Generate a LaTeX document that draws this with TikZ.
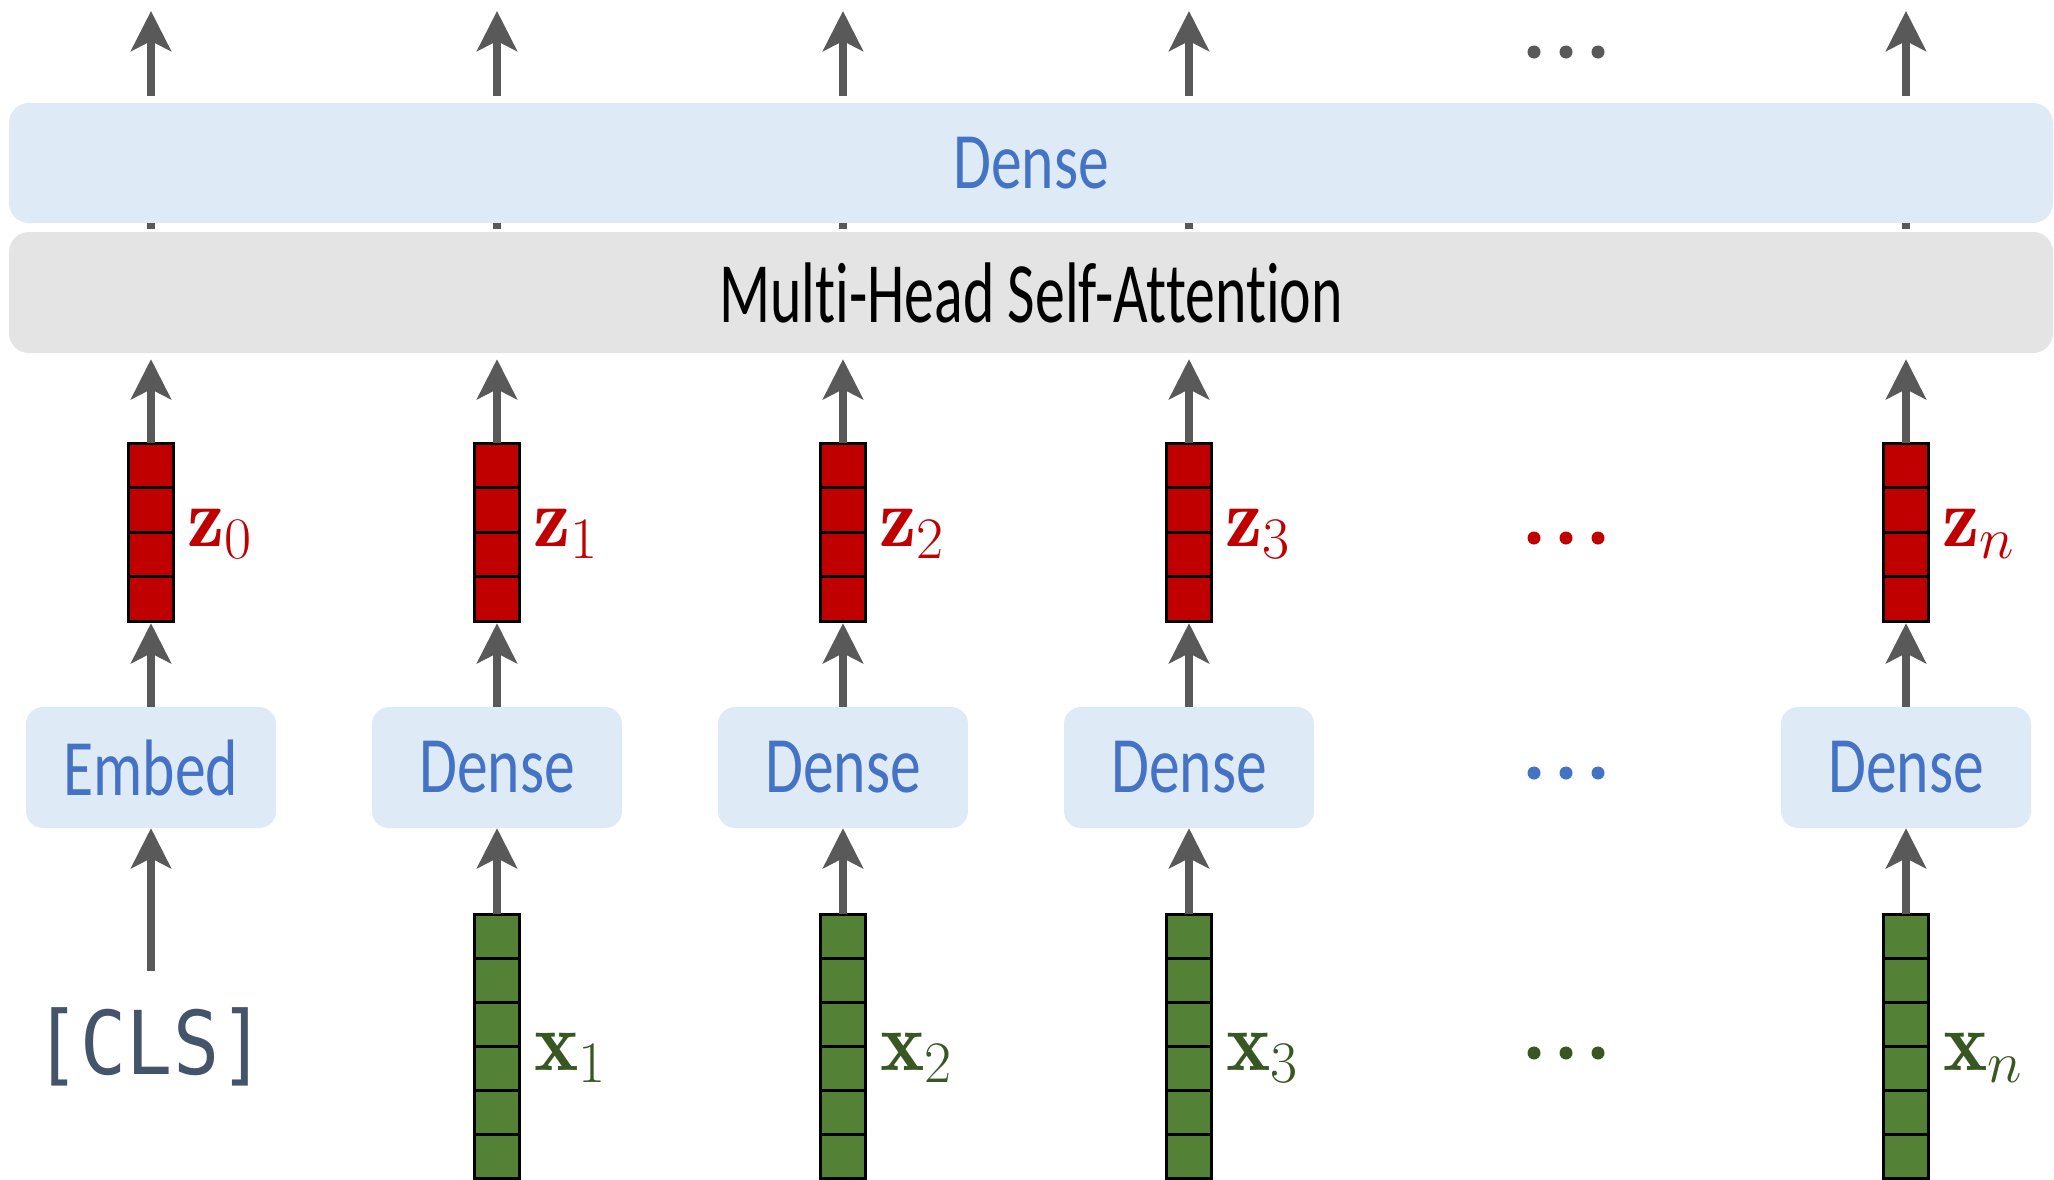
\RequirePackage{fix-cm}
\documentclass[tikz,border=0pt]{standalone}
\usepackage{fontspec}
\newfontfamily\calfont[FakeStretch=0.77,Ligatures=NoCommon]{Carlito}
\newfontfamily\mhsafont[FakeStretch=0.695,Ligatures=NoCommon]{Carlito}
\newfontfamily\clsfont[FakeStretch=0.87]{DejaVu Sans Mono}
\usetikzlibrary{arrows.meta}
\definecolor{agray}{HTML}{595959}
\definecolor{lblue}{HTML}{DEEBF7}
\definecolor{lgray}{HTML}{E4E4E4}
\definecolor{tblue}{HTML}{4472C4}
\definecolor{zred}{HTML}{C00000}
\definecolor{xfill}{HTML}{538135}
\definecolor{xtext}{HTML}{385723}
\definecolor{clsc}{HTML}{44546A}
\tikzset{
  arr/.style={draw=agray, line width=8pt, -{Stealth[length=40pt,width=40pt,inset=10pt]}},
  stub/.style={draw=agray, line width=8pt},
  bar/.style={rounded corners=20pt, inner sep=0pt, minimum width=2044pt, minimum height=120pt},
  box/.style={fill=lblue, rounded corners=17pt, inner sep=0pt, minimum width=250pt, minimum height=121pt, text=tblue, font=\calfont\fontsize{80}{96}\selectfont},
  zcell/.style={fill=zred, draw=black, line width=3pt},
  xcell/.style={fill=xfill, draw=black, line width=3pt},
  veclabel/.style={anchor=base west, inner sep=0pt, font=\fontsize{84}{96}\selectfont},
}
\begin{document}
\begin{tikzpicture}[x=1pt,y=-1pt]
\fill[white] (0,0) rectangle (2054,1179);
\useasboundingbox (0,0) rectangle (2054,1179);
% big bars
\node[bar, fill=lblue, text=tblue, font=\calfont\fontsize{80}{96}\selectfont] (dense) at (1031,163) {Dense};
\node[bar, fill=lgray, minimum height=121pt, text=black, font=\mhsafont\fontsize{86}{100}\selectfont] (mhsa) at (1031,292.5) {Multi-Head Self-Attention};
% lower boxes
\node[box] (e0) at (151,767.5) {Embed};
\foreach \nm/\x in {1/497,2/843,3/1189,n/1906}
  \node[box] (d\nm) at (\x,767.5) {Dense};
% z vectors and upper connectors
\foreach \nm/\x in {0/151,1/497,2/843,3/1189,n/1906}{
  \foreach \k in {0,...,3}
    \draw[zcell] ({\x-22.5},{443+44.5*\k}) rectangle ++(45,44.5);
  \node[inner sep=0pt, minimum width=45pt, minimum height=178pt] (z\nm) at (\x,532) {};
  \node[veclabel, text=zred] (zl\nm) at ({\x+36},546) {$\mathbf{z}_{\nm}$};
  \coordinate (top\nm) at (\x,11);
  \draw[arr, shorten <=7pt] (dense.north -| z\nm) -- (top\nm);
  \draw[stub, shorten <=3pt] (mhsa.north -| z\nm) -- (dense.south -| z\nm);
  \draw[arr, shorten >=6pt] (z\nm.north) -- (mhsa.south -| z\nm);
}
\draw[arr, shorten >=2pt] (e0.north) -- (z0.south);
% x vectors
\foreach \nm/\x in {1/497,2/843,3/1189,n/1906}{
  \foreach \k in {0,...,5}
    \draw[xcell] ({\x-22.5},{914+44*\k}) rectangle ++(45,44);
  \node[inner sep=0pt, minimum width=45pt, minimum height=264pt] (x\nm) at (\x,1046) {};
  \node[veclabel, text=xtext] (xl\nm) at ({\x+37},1070) {$\mathbf{x}_{\nm}$};
  \draw[arr, shorten >=2pt] (d\nm.north) -- (z\nm.south);
  \draw[arr] (x\nm.north) -- (d\nm.south);
}
% [CLS]
\node[anchor=base, inner sep=0pt, text=clsc, font=\clsfont\fontsize{88}{100}\selectfont] (cls) at (150,1074) {[CLS]};
\draw[arr, shorten <=36pt] (cls.north -| e0) -- (e0.south);
% ellipses
\foreach \xx in {1534,1566,1598}{
  \fill[agray] (\xx,52) circle (6.5pt);
  \fill[zred] (\xx,538) circle (6.5pt);
  \fill[tblue] (\xx,773) circle (6.5pt);
  \fill[xtext] (\xx,1053) circle (6.5pt);
}
\end{tikzpicture}
\end{document}
